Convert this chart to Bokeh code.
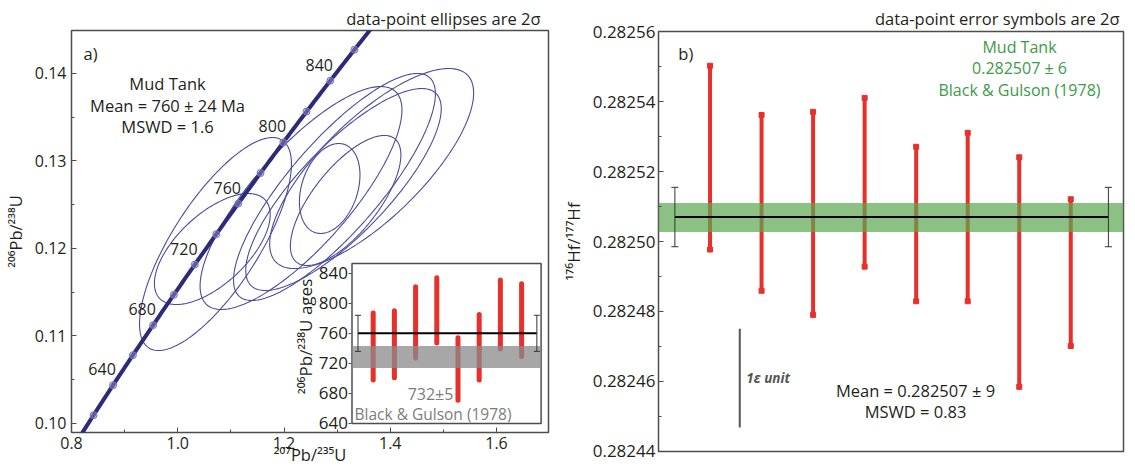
import numpy as np
from bokeh.plotting import figure
from bokeh.layouts import row
from bokeh.models import Range1d, LinearAxis, FixedTicker, PrintfTickFormatter, Label, Title
from bokeh.core.properties import value
from bokeh.embed import file_html
from bokeh.resources import INLINE

FONT = "Open Sans"
INK = "#231f20"
RED = "#e8302a"
FRAME = "#4d4d4d"

# ---------------- panel a) : concordia -----------------
L238 = 1.55125e-10   # decay constants (1/yr)
L235 = 9.8485e-10
curve_ages = list(range(590, 912, 2))           # Ma, concordia curve
marker_ages = [620, 640, 660, 680, 700, 720, 740, 760, 780, 800, 820, 840, 860]
label_ages = [640, 680, 720, 760, 800, 840]

# data-point ellipses: centre, 2-sigma half widths, error correlation
ell_x = [1.071, 1.065, 1.286, 1.232, 1.295, 1.365, 1.312, 1.316]
ell_y = [0.12051, 0.11994, 0.12686, 0.12577, 0.12703, 0.12914, 0.12674, 0.12549]
ell_sx = [0.143, 0.109, 0.057, 0.190, 0.190, 0.192, 0.184, 0.104]
ell_sy = [0.01217, 0.00634, 0.00514, 0.01274, 0.01297, 0.01143, 0.01154, 0.00743]
ell_rho = [0.75, 0.62, 0.30, 0.79, 0.82, 0.755, 0.80, 0.70]

xa_ticks = [0.8, 1.0, 1.2, 1.4, 1.6]
xa_minor = [0.9, 1.1, 1.3, 1.5, 1.7]
ya_ticks = [0.10, 0.11, 0.12, 0.13, 0.14]
ya_minor = [0.105, 0.115, 0.125, 0.135, 0.145]

# inset: 206Pb/238U ages
inset_idx = [1, 2, 3, 4, 5, 6, 7, 8]
inset_lo = [698, 701, 727, 747, 671, 698, 739, 729]
inset_hi = [787, 790, 822, 834, 754, 785, 831, 826]
inset_mean, inset_err = 760, 24
ref_age_lo, ref_age_hi = 714, 743
inset_ticks = [640, 680, 720, 760, 800, 840]

# ---------------- panel b) : Hf ----------------
hf_idx = [1, 2, 3, 4, 5, 6, 7, 8]
hf_lo = [0.2824977, 0.2824859, 0.2824790, 0.2824928, 0.2824829, 0.2824829, 0.2824584, 0.2824701]
hf_hi = [0.2825503, 0.2825362, 0.2825371, 0.2825411, 0.2825271, 0.2825311, 0.2825241, 0.2825121]
hf_mean, hf_err = 0.282507, 0.0000085
hf_ref_lo, hf_ref_hi = 0.2825027, 0.2825110
eps_top = 0.282475
yb_ticks = [0.28244, 0.28246, 0.28248, 0.28250, 0.28252, 0.28254, 0.28256]
yb_minor = [0.28245, 0.28247, 0.28249, 0.28251, 0.28253, 0.28255]


def style_axis(ax, size):
    ax.axis_line_color = None
    ax.major_tick_in = 5
    ax.major_tick_out = 0
    ax.minor_tick_in = 3
    ax.minor_tick_out = 0
    ax.major_tick_line_color = FRAME
    ax.minor_tick_line_color = FRAME
    ax.major_label_text_font = FONT
    ax.major_label_text_font_size = f"{size}px"
    ax.major_label_text_color = INK
    ax.axis_label_text_font = FONT
    ax.axis_label_text_font_style = "normal"
    ax.axis_label_text_color = INK


def lab(p, x, y, text, size, color=INK, align="center", baseline="middle",
        angle=0.0, style="normal"):
    p.add_layout(Label(x=x, y=y, x_units="screen", y_units="screen", text=text,
                       text_font=FONT, text_font_size=f"{size}px", text_color=color,
                       text_align=align, text_baseline=baseline, angle=angle,
                       text_font_style=style))


def top_title(p, text, offset, standoff):
    p.add_layout(Title(text=text, align="right", offset=offset, standoff=standoff,
                       text_font=FONT, text_font_size="16.5px", text_font_style="normal",
                       text_color=INK, vertical_align="bottom"), "above")


# ======================= panel a =======================
p1 = figure(width=558, height=470, x_range=Range1d(0.79995, 1.6979),
            y_range=Range1d(0.098971, 0.144914), output_backend="svg",
            toolbar_location=None, title=None,
            min_border_left=71, min_border_right=10, min_border_top=30, min_border_bottom=38)
p1.frame_align = False
p1.grid.visible = False
p1.outline_line_color = FRAME
p1.outline_line_width = 1.5
p1.xaxis.ticker = FixedTicker(ticks=xa_ticks, minor_ticks=xa_minor)
p1.xaxis.formatter = PrintfTickFormatter(format="%.1f")
p1.yaxis.ticker = FixedTicker(ticks=ya_ticks, minor_ticks=ya_minor)
p1.yaxis.formatter = PrintfTickFormatter(format="%.2f")
style_axis(p1.xaxis[0], 16)
style_axis(p1.yaxis[0], 16)
p1.xaxis.major_label_standoff = 4
p1.yaxis.major_label_standoff = 5
p1.xaxis.axis_label = "²⁰⁷Pb/²³⁵U"
p1.xaxis.axis_label_text_font_size = "16.5px"
p1.xaxis.axis_label_standoff = -9
p1.yaxis.axis_label = "²⁰⁶Pb/²³⁸U"
p1.yaxis.axis_label_text_font_size = "16.5px"
p1.yaxis.axis_label_standoff = 5
top_title(p1, "data-point ellipses are 2σ", 8, 2)

theta = np.linspace(0, 2 * np.pi, 241)
xs, ys = [], []
for cx, cy, sx, sy, r in zip(ell_x, ell_y, ell_sx, ell_sy, ell_rho):
    xs.append(cx + sx * np.cos(theta))
    ys.append(cy + sy * (r * np.cos(theta) + np.sqrt(1 - r * r) * np.sin(theta)))
p1.multi_line(xs, ys, line_color="#4b4a9e", line_width=1.1)

t = np.array(curve_ages, dtype=float) * 1e6
p1.line(np.expm1(L235 * t), np.expm1(L238 * t), line_color="#2e2a7a", line_width=4)
tm = np.array(marker_ages, dtype=float) * 1e6
p1.scatter(np.expm1(L235 * tm), np.expm1(L238 * tm), marker="circle", size=7,
           line_color="#7a76b8", fill_color="#8d89c4", fill_alpha=0.5, line_width=1)
tl = np.array(label_ages, dtype=float) * 1e6
p1.text(np.expm1(L235 * tl), np.expm1(L238 * tl), text=[str(a) for a in label_ages],
        x_offset=-11, y_offset=-16, text_font=value(FONT), text_font_size=value("16px"),
        text_color=INK, text_align="center", text_baseline="middle")

# ---- inset drawn on its own scales ----
p1.extra_x_ranges = {"ix": Range1d(-13.231, 9.269)}
p1.extra_y_ranges = {"iy": Range1d(628.02, 1162.95)}
IB = dict(x_range_name="ix", y_range_name="iy")
p1.quad(left=[0], right=[8.92], bottom=[640], top=[852.9], fill_color="white",
        line_color=FRAME, line_width=1.5, **IB)
p1.segment(x0=inset_idx, y0=inset_lo, x1=inset_idx, y1=inset_hi, line_color=RED,
           line_width=5, line_cap="round", **IB)
p1.quad(left=[0], right=[8.92], bottom=[ref_age_lo], top=[ref_age_hi],
        fill_color="#8a8a8a", fill_alpha=0.75, line_color=None, **IB)
p1.segment(x0=[0.283], x1=[8.72], y0=[inset_mean], y1=[inset_mean], line_color="black",
           line_width=2, **IB)
ends_i = [0.283, 8.72]
p1.segment(x0=ends_i, x1=ends_i, y0=[inset_mean - inset_err] * 2,
           y1=[inset_mean + inset_err] * 2, line_color="#333333", line_width=1, **IB)
p1.scatter(ends_i * 2, [inset_mean - inset_err] * 2 + [inset_mean + inset_err] * 2,
           marker="dash", size=6, line_color="#333333", line_width=1, **IB)
ax_in = LinearAxis(x_range_name="ix", y_range_name="iy", fixed_location=0,
                   ticker=FixedTicker(ticks=inset_ticks), bounds=(640, 840),
                   formatter=PrintfTickFormatter(format="%d"))
ax_in.axis_line_color = None
ax_in.major_tick_out = 3
ax_in.major_tick_in = 0
ax_in.major_tick_line_color = FRAME
ax_in.minor_tick_line_color = None
ax_in.major_label_text_font = FONT
ax_in.major_label_text_font_size = "17px"
ax_in.major_label_text_color = INK
ax_in.major_label_standoff = 1
p1.add_layout(ax_in, "left")

lab(p1, 234, 96, "²⁰⁶Pb/²³⁸U ages", 17, angle=np.pi / 2)
lab(p1, 359, 38.4, "732±5", 16, color="#7d7d7d")
lab(p1, 283, 18.2, "Black & Gulson (1978)", 15.5, color="#7d7d7d", align="left")

lab(p1, 19, 379, "a)", 16.5)
lab(p1, 96, 349, "Mud Tank", 16.5)
lab(p1, 96, 327.5, "Mean = 760 ± 24 Ma", 16.5)
lab(p1, 96, 306, "MSWD = 1.6", 16.5)

# ======================= panel b =======================
p2 = figure(width=572, height=470, x_range=Range1d(0, 9.023),
            y_range=Range1d(0.2824399, 0.2825601), output_backend="svg",
            toolbar_location=None, title=None,
            min_border_left=94, min_border_right=7, min_border_top=31, min_border_bottom=19)
p2.frame_align = False
p2.grid.visible = False
p2.outline_line_color = FRAME
p2.outline_line_width = 1.5
p2.xaxis.visible = False
p2.yaxis.ticker = FixedTicker(ticks=yb_ticks, minor_ticks=yb_minor)
p2.yaxis.formatter = PrintfTickFormatter(format="%.5f")
style_axis(p2.yaxis[0], 17)
p2.yaxis.major_label_standoff = 3
p2.yaxis.axis_label = "¹⁷⁶Hf/¹⁷⁷Hf"
p2.yaxis.axis_label_text_font_size = "17px"
p2.yaxis.axis_label_standoff = 5
top_title(p2, "data-point error symbols are 2σ", 4, 4)

p2.segment(x0=hf_idx, y0=hf_lo, x1=hf_idx, y1=hf_hi, line_color=RED, line_width=4)
p2.scatter(hf_idx * 2, hf_lo + hf_hi, marker="square", size=5, color=RED)
p2.quad(left=[0], right=[9.023], bottom=[hf_ref_lo], top=[hf_ref_hi],
        fill_color="#5aa850", fill_alpha=0.7, line_color=None)
p2.segment(x0=[0.318], x1=[8.73], y0=[hf_mean], y1=[hf_mean], line_color="black", line_width=2)
ends_b = [0.318, 8.73]
p2.segment(x0=ends_b, x1=ends_b, y0=[hf_mean - hf_err] * 2, y1=[hf_mean + hf_err] * 2,
           line_color="#333333", line_width=1)
p2.scatter(ends_b * 2, [hf_mean - hf_err] * 2 + [hf_mean + hf_err] * 2, marker="dash",
           size=7, line_color="#333333", line_width=1)
# 1 epsilon unit scale bar
p2.segment(x0=[1.577], x1=[1.577], y0=[eps_top - 1e-4 * hf_mean], y1=[eps_top],
           line_color="#555555", line_width=2)

lab(p2, 27.3, 398.3, "b)", 16.5)
GREEN = "#3d9a48"
lab(p2, 361, 405, "Mud Tank", 16, color=GREEN)
lab(p2, 361, 383.3, "0.282507 ± 6", 16, color=GREEN)
lab(p2, 361, 361.7, "Black & Gulson (1978)", 16, color=GREEN)
lab(p2, 257, 61, "Mean = 0.282507 ± 9", 16.5)
lab(p2, 257, 39.6, "MSWD = 0.83", 16.5)
lab(p2, 87.8, 73.5, "1ε unit", 13.5, color="#555555", align="left", style="bold italic")

layout = row(p1, p2)
open("out.html", "w").write(file_html(layout, INLINE))
